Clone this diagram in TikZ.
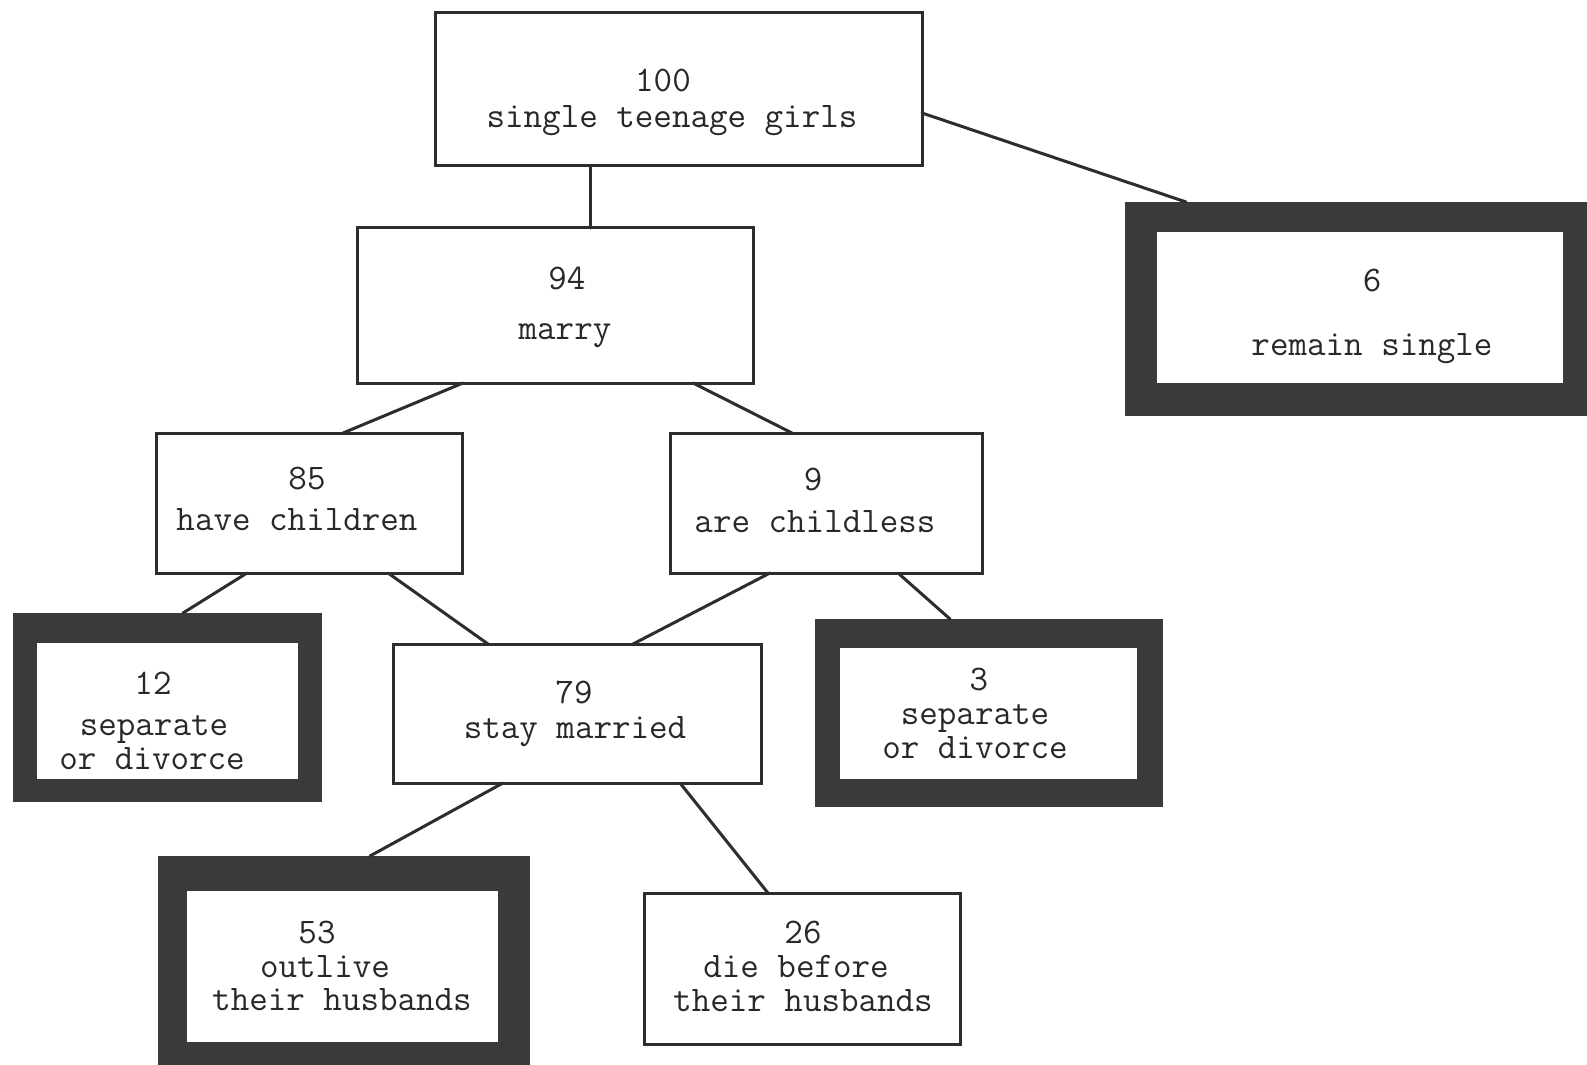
\documentclass[tikz,border=0pt]{standalone}
\usepackage{fontspec}
\usetikzlibrary{calc}
\definecolor{ink}{RGB}{45,45,45}
\definecolor{txt}{RGB}{40,40,40}
\definecolor{band}{RGB}{58,58,58}
\begin{document}
\begin{tikzpicture}[x=0.5pt,y=-0.5pt,
  box/.style={draw=ink,line width=1.5pt,fill=white,inner sep=0,outer sep=0,anchor=north west},
  heavy/.style={fill=band,draw=none,inner sep=0,outer sep=0,anchor=north west},
  hole/.style={fill=white,draw=none,inner sep=0,outer sep=0,anchor=north west},
  tl/.style={font=\ttfamily\fontsize{18}{20}\selectfont,text=txt,inner sep=0,anchor=base},
  link/.style={draw=ink,line width=1.5pt,line cap=round}]
\useasboundingbox (0,0) rectangle (1587,1065);
\clip (0,0) rectangle (1587,1065);
\fill[white] (0,0) rectangle (1587,1065);

% plain boxes
\node[box,minimum width=243.5pt,minimum height=76.5pt] (A) at (435,13) {};
\node[box,minimum width=198pt,minimum height=77.5pt] (B) at (357,228) {};
\node[box,minimum width=153pt,minimum height=70pt] (C) at (156,433) {};
\node[box,minimum width=156pt,minimum height=70pt] (D) at (670,433) {};
\node[box,minimum width=184pt,minimum height=69.5pt] (E) at (393,644) {};
\node[box,minimum width=158pt,minimum height=75.5pt] (F) at (644,893) {};

% heavy-framed boxes
\node[heavy,minimum width=235pt,minimum height=107pt] (R) at (1125,202) {};
\node[hole,minimum width=203pt,minimum height=75.5pt] (Ri) at (1157,232) {};
\node[heavy,minimum width=154.5pt,minimum height=94.5pt] (S12) at (13,613) {};
\node[hole,minimum width=130.5pt,minimum height=68pt] (S12i) at (37,643) {};
\node[heavy,minimum width=174pt,minimum height=94pt] (S3) at (815,619) {};
\node[hole,minimum width=148.5pt,minimum height=65.5pt] (S3i) at (840,648) {};
\node[heavy,minimum width=186pt,minimum height=112pt] (S53) at (158,856) {};
\node[hole,minimum width=155.5pt,minimum height=75.5pt] (S53i) at (187,891) {};

% connectors
\draw[link] ($(A.south west)+(155,0)$) -- ($(B.north west)+(233,0)$);
\draw[link] ($(A.north east)+(0,100)$) -- ($(R.north west)+(61,0)$);
\draw[link] ($(B.south west)+(106,0)$) -- ($(C.north west)+(187,0)$);
\draw[link] ($(B.south west)+(336,0)$) -- ($(D.north west)+(122,0)$);
\draw[link] ($(C.south west)+(91,0)$) -- ($(S12.north west)+(170,0)$);
\draw[link] ($(C.south west)+(232,0)$) -- ($(E.north west)+(95,0)$);
\draw[link] ($(D.south west)+(100,0)$) -- ($(E.north west)+(240,0)$);
\draw[link] ($(D.south west)+(228,0)$) -- ($(S3.north west)+(135,0)$);
\draw[link] ($(E.south west)+(110,0)$) -- ($(S53.north west)+(212,0)$);
\draw[link] ($(E.south west)+(287,0)$) -- ($(F.north west)+(124,0)$);

% texts
\node[tl] (a1) at (663,92) {100};
\node[tl] (a2) at (672,128) {single teenage girls};
\node[tl] (b1) at (567,289) {94};
\node[tl] (b2) at (565,339) {marry};
\node[tl] (r1) at (1372,292) {6};
\node[tl] (r2) at (1372,355) {remain single};
\node[tl] (c1) at (307,489) {85};
\node[tl] (c2) at (297,530) {have children};
\node[tl] (d1) at (813,490) {9};
\node[tl] (d2) at (815,532) {are childless};
\node[tl] (s1) at (153,694) {12};
\node[tl] (s2) at (154,735) {separate};
\node[tl] (s3) at (152,769) {or divorce};
\node[tl] (e1) at (574,703) {79};
\node[tl] (e2) at (575,738) {stay married};
\node[tl] (t1) at (979,690) {3};
\node[tl] (t2) at (975,724) {separate};
\node[tl] (t3) at (975,758) {or divorce};
\node[tl] (o1) at (317,943) {53};
\node[tl] (o2) at (325,977) {outlive};
\node[tl] (o3) at (342,1010) {their husbands};
\node[tl] (f1) at (803,943) {26};
\node[tl] (f2) at (796,977) {die before};
\node[tl] (f3) at (803,1011) {their husbands};
\end{tikzpicture}
\end{document}
